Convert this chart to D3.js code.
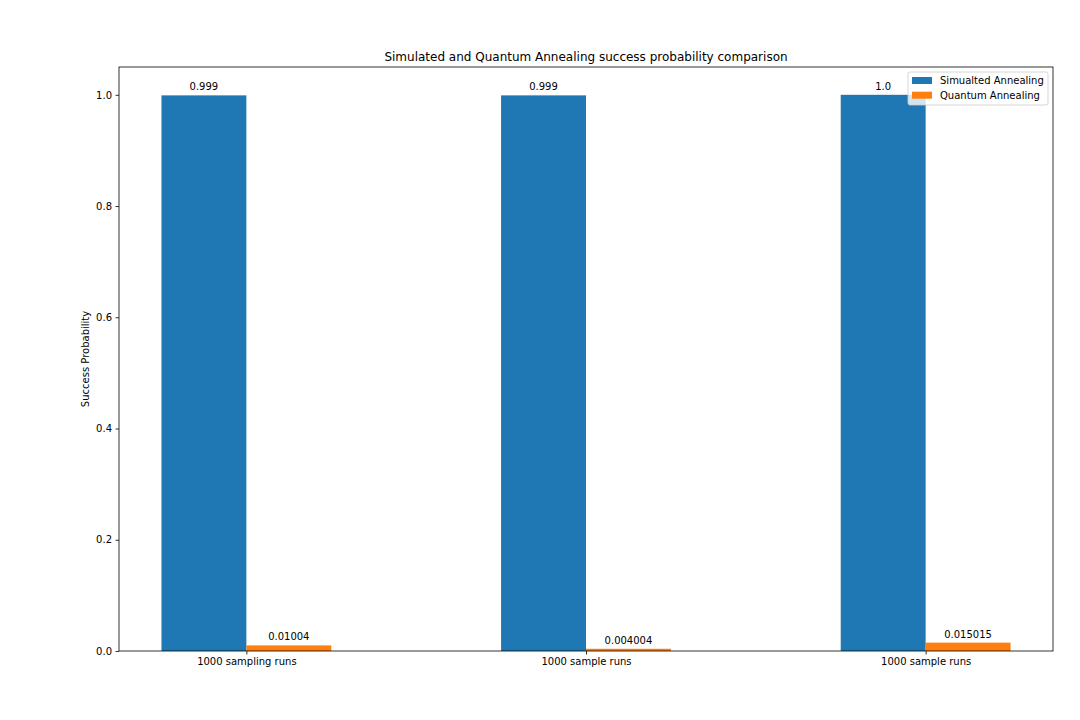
<!DOCTYPE html>
<html>
<head>
<meta charset="utf-8">
<script src="https://cdn.jsdelivr.net/npm/d3@7"></script>
<style>
  body { margin: 0; background: #fff; }
  svg { font-family: "DejaVu Sans", sans-serif; }
</style>
</head>
<body>
<svg id="chart" width="1080" height="720"></svg>
<script>
// data
const categories = ["1000 sampling runs", "1000 sample runs", "1000 sample runs"];
const simulated = [0.999, 0.999, 1.0];
const quantum = [0.01004, 0.004004, 0.015015];
const simLabels = ["0.999", "0.999", "1.0"];
const quantLabels = ["0.01004", "0.004004", "0.015015"];
const yTicks = [0.0, 0.2, 0.4, 0.6, 0.8, 1.0];

const svg = d3.select("#chart");
const plotL = 119, plotR = 1053, plotT = 67, plotB = 651;
const barW = 0.25;

const x = d3.scaleLinear().domain([-0.375, 2.375]).range([plotL, plotR]);
const y = d3.scaleLinear().domain([0, 1.05]).range([plotB, plotT]);

// bars
const series = [
  { name: "Simualted Annealing", vals: simulated, labels: simLabels, color: "#1f77b4", off: -barW },
  { name: "Quantum Annealing", vals: quantum, labels: quantLabels, color: "#ff7f0e", off: 0 }
];

series.forEach(s => {
  svg.append("g").selectAll("rect")
    .data(s.vals)
    .join("rect")
    .attr("x", (d, i) => x(i + s.off))
    .attr("y", d => y(d))
    .attr("width", (d, i) => x(i + s.off + barW) - x(i + s.off))
    .attr("height", d => y(0) - y(d))
    .attr("fill", s.color);

  svg.append("g").selectAll("text")
    .data(s.vals)
    .join("text")
    .attr("x", (d, i) => x(i + s.off + barW / 2))
    .attr("y", d => y(d) - 5)
    .attr("text-anchor", "middle")
    .style("font-size", "10px")
    .attr("fill", "#000")
    .text((d, i) => s.labels[i]);
});

// axes
const xAxis = d3.axisBottom(x)
  .tickValues([0, 1, 2])
  .tickSize(3.5)
  .tickPadding(3.5)
  .tickFormat(i => categories[i]);
const gx = svg.append("g").attr("transform", `translate(0,${plotB})`).call(xAxis);

const yAxis = d3.axisLeft(y)
  .tickValues(yTicks)
  .tickSize(3.5)
  .tickPadding(3.5)
  .tickFormat(d3.format(".1f"));
const gy = svg.append("g").attr("transform", `translate(${plotL},0)`).call(yAxis);

[gx, gy].forEach(g => {
  g.select(".domain").remove();
  g.selectAll("text").style("font-size", "10px").attr("fill", "#000").style("font-family", "DejaVu Sans, sans-serif");
  g.selectAll("line").attr("stroke", "#000").attr("stroke-width", 0.8);
});

// frame
svg.append("rect")
  .attr("x", plotL).attr("y", plotT)
  .attr("width", plotR - plotL).attr("height", plotB - plotT)
  .attr("fill", "none").attr("stroke", "#000").attr("stroke-width", 0.8);

// title and y label
svg.append("text")
  .attr("x", (plotL + plotR) / 2).attr("y", plotT - 6)
  .attr("text-anchor", "middle")
  .style("font-size", "12px")
  .text("Simulated and Quantum Annealing success probability comparison");

svg.append("text")
  .attr("transform", `translate(89,${(plotT + plotB) / 2}) rotate(-90)`)
  .attr("text-anchor", "middle")
  .style("font-size", "10px")
  .text("Success Probability");

// legend
const lg = svg.append("g").attr("transform", "translate(908,72)");
lg.append("rect")
  .attr("width", 140).attr("height", 33).attr("rx", 2)
  .attr("fill", "#fff").attr("fill-opacity", 0.8)
  .attr("stroke", "#ccc").attr("stroke-width", 0.8);
series.forEach((s, i) => {
  lg.append("rect")
    .attr("x", 4).attr("y", 5 + i * 14.7)
    .attr("width", 20).attr("height", 7)
    .attr("fill", s.color);
  lg.append("text")
    .attr("x", 32).attr("y", 12.3 + i * 14.7)
    .style("font-size", "10px")
    .text(s.name);
});
</script>
</body>
</html>
